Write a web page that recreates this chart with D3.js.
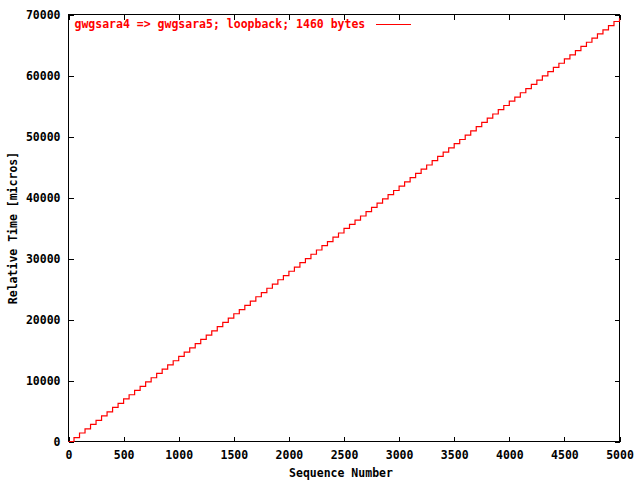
<!DOCTYPE html>
<html>
<head>
<meta charset="utf-8">
<script src="https://cdn.jsdelivr.net/npm/d3@7"></script>
<style>
  body { margin: 0; background: #fff; }
  text { font-family: "DejaVu Sans Mono", "Liberation Mono", monospace; font-weight: bold; font-size: 11.5px; }
</style>
</head>
<body>
<svg></svg>
<script>
/* sequence numbers (x) */
var seqNumbers = [
  0, 50, 100, 150, 200, 250, 300, 350, 400, 450,
  500, 550, 600, 650, 700, 750, 800, 850, 900, 950,
  1000, 1050, 1100, 1150, 1200, 1250, 1300, 1350, 1400, 1450,
  1500, 1550, 1600, 1650, 1700, 1750, 1800, 1850, 1900, 1950,
  2000, 2050, 2100, 2150, 2200, 2250, 2300, 2350, 2400, 2450,
  2500, 2550, 2600, 2650, 2700, 2750, 2800, 2850, 2900, 2950,
  3000, 3050, 3100, 3150, 3200, 3250, 3300, 3350, 3400, 3450,
  3500, 3550, 3600, 3650, 3700, 3750, 3800, 3850, 3900, 3950,
  4000, 4050, 4100, 4150, 4200, 4250, 4300, 4350, 4400, 4450,
  4500, 4550, 4600, 4650, 4700, 4750, 4800, 4850, 4900, 4950,
  5000
];

/* relative time in micros (y) */
var relTimes = [
  0, 620, 1390, 2060, 2800, 3460, 4190, 4870, 5590, 6250,
  6980, 7660, 8380, 9050, 9780, 10450, 11170, 11850, 12560, 13240,
  13960, 14640, 15350, 16040, 16750, 17430, 18150, 18830, 19540, 20230,
  20940, 21620, 22330, 23020, 23730, 24410, 25120, 25810, 26520, 27200,
  27910, 28600, 29310, 29990, 30700, 31390, 32100, 32780, 33490, 34180,
  34950, 35580, 36280, 36970, 37680, 38370, 39070, 39760, 40470, 41150,
  41860, 42550, 43250, 43940, 44650, 45330, 46040, 46730, 47430, 48120,
  48830, 49510, 50220, 50910, 51610, 52300, 53010, 53690, 54400, 55080,
  55790, 56470, 57170, 57860, 58560, 59240, 59940, 60620, 61330, 62010,
  62710, 63380, 64080, 64760, 65450, 66120, 66810, 67480, 68180, 68850,
  69380
];

var xTicks = [0, 500, 1000, 1500, 2000, 2500, 3000, 3500, 4000, 4500, 5000];
var yTicks = [0, 10000, 20000, 30000, 40000, 50000, 60000, 70000];
var legendLabel = "gwgsara4 => gwgsara5; loopback; 1460 bytes";

var width = 640;
var height = 480;
var plotLeft = 68.5, plotRight = 619.5, plotTop = 14.5, plotBottom = 441.5;

var svg = d3.select("svg").attr("width", width).attr("height", height);

var xScale = d3.scaleLinear().domain([0, 5000]).range([plotLeft, plotRight]);
var yScale = d3.scaleLinear().domain([0, 70000]).range([plotBottom, plotTop]);

/* axes, ticks pointing inward, mirrored on top and right */
var fmt = d3.format("d");
svg.append("g")
  .attr("transform", "translate(0," + plotBottom + ")")
  .call(d3.axisBottom(xScale).tickValues(xTicks).tickFormat(fmt).tickSizeInner(-5).tickSizeOuter(0).tickPadding(9));
svg.append("g")
  .attr("transform", "translate(0," + plotTop + ")")
  .call(d3.axisTop(xScale).tickValues(xTicks).tickFormat("").tickSizeInner(-5).tickSizeOuter(0));
svg.append("g")
  .attr("transform", "translate(" + plotLeft + ",0)")
  .call(d3.axisLeft(yScale).tickValues(yTicks).tickFormat(fmt).tickSizeInner(-5).tickSizeOuter(0).tickPadding(8));
svg.append("g")
  .attr("transform", "translate(" + plotRight + ",0)")
  .call(d3.axisRight(yScale).tickValues(yTicks).tickFormat("").tickSizeInner(-5).tickSizeOuter(0));

svg.selectAll(".domain").remove();
svg.selectAll(".tick line").attr("stroke", "#000").attr("shape-rendering", "crispEdges");
svg.selectAll(".tick text").attr("fill", "#000").style("font-size", "11.5px")
  .style("font-family", "'DejaVu Sans Mono', monospace").style("font-weight", "bold");

/* frame */
svg.append("rect")
  .attr("x", plotLeft).attr("y", plotTop)
  .attr("width", plotRight - plotLeft).attr("height", plotBottom - plotTop)
  .attr("fill", "none").attr("stroke", "#000")
  .attr("shape-rendering", "crispEdges");

/* staircase line */
var line = d3.line()
  .x(function (d, i) { return xScale(seqNumbers[i]); })
  .y(function (d) { return yScale(d); })
  .curve(d3.curveStepAfter);

svg.append("path")
  .datum(relTimes)
  .attr("d", line)
  .attr("fill", "none")
  .attr("stroke", "#ff0000")
  .attr("stroke-width", 1.2);

/* legend */
svg.append("text")
  .attr("x", 74.5).attr("y", 28)
  .attr("fill", "#ff0000")
  .text(legendLabel);
svg.append("line")
  .attr("x1", 376).attr("x2", 411)
  .attr("y1", 24.5).attr("y2", 24.5)
  .attr("stroke", "#ff0000")
  .attr("shape-rendering", "crispEdges");

/* axis titles */
svg.append("text")
  .attr("x", 341).attr("y", 477)
  .attr("text-anchor", "middle")
  .text("Sequence Number");
svg.append("text")
  .attr("transform", "translate(17,228) rotate(-90)")
  .attr("text-anchor", "middle")
  .text("Relative Time [micros]");
</script>
</body>
</html>
